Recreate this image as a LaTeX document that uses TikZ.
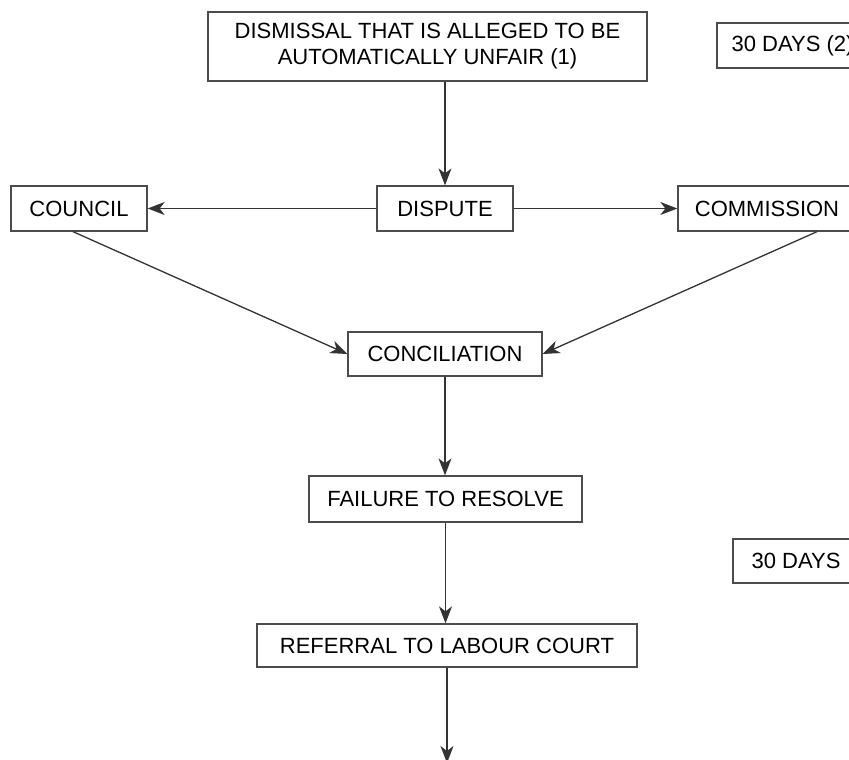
\documentclass[tikz,border=0pt]{standalone}
\usepackage{fontspec}
\setmainfont{Liberation Sans}
\usetikzlibrary{arrows.meta}
\begin{document}
\begin{tikzpicture}[x=1pt,y=-1pt,
  box/.style={draw=black!70,line width=1.3pt,fill=white,inner sep=0pt,align=center,
    font=\fontsize{22}{26}\selectfont,text=black},
  conn/.style={draw=black!80,line width=1.3pt,-{Stealth[length=17pt,width=13pt,inset=5pt]}}]
\useasboundingbox (0,0) rectangle (849,760);
\clip (0,0) rectangle (849,760);
\node[box,minimum width=439pt,minimum height=69pt] (top) at (427.5,46.5) {DISMISSAL THAT IS ALLEGED TO BE\\AUTOMATICALLY UNFAIR (1)};
\node[box,minimum width=151pt,minimum height=45pt] (days1) at (792.5,45.5) {30 DAYS (2)};
\node[box,minimum width=136pt,minimum height=45pt] (dispute) at (445,208.5) {DISPUTE};
\node[box,minimum width=136pt,minimum height=45pt] (council) at (79,208.5) {COUNCIL};
\node[box,minimum width=178pt,minimum height=45pt] (commission) at (767,208.5) {COMMISSION};
\node[box,minimum width=194pt,minimum height=44pt] (concil) at (445,354) {CONCILIATION};
\node[box,minimum width=273pt,minimum height=46pt] (failure) at (445.5,499) {FAILURE TO RESOLVE};
\node[box,minimum width=126pt,minimum height=44pt] (days2) at (796,561) {30 DAYS};
\node[box,minimum width=380pt,minimum height=43pt] (referral) at (447,645.5) {REFERRAL TO LABOUR COURT};
\coordinate (next) at (447,763);
\draw[conn] (top.south -| dispute.north) -- (dispute.north);
\draw[conn] (dispute.west) -- (council.east);
\draw[conn] (dispute.east) -- (commission.west);
\draw[conn] ([xshift=-6pt]council.south) -- (concil.west);
\draw[conn] ([xshift=50pt]commission.south) -- (concil.east);
\draw[conn] (concil.south) -- (concil.south |- failure.north);
\draw[conn] (failure.south) -- (failure.south |- referral.north);
\draw[conn] (referral.south -| next) -- (next);
\end{tikzpicture}
\end{document}
